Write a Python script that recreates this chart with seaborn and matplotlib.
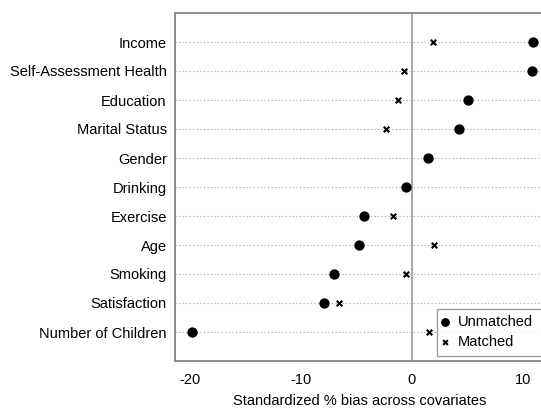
"""Standardized bias dot plot."""

import matplotlib

matplotlib.use("Agg")
import matplotlib.pyplot as plt
import pandas as pd
import seaborn as sns

covariates = [
    "Income",
    "Self-Assessment Health",
    "Education",
    "Marital Status",
    "Gender",
    "Drinking",
    "Exercise",
    "Age",
    "Smoking",
    "Satisfaction",
    "Number of Children",
]
unmatched = [10.95, 10.8, 5.1, 4.24, 1.44, -0.51, -4.33, -4.78, -7.03, -7.9, -19.84]
# gender / drinking matched markers sit hidden under the unmatched dots
matched = [1.92, -0.69, -1.26, -2.37, 1.44, -0.51, -1.71, 1.98, -0.57, -6.55, 1.56]
x_ticks = [-20, -10, 0, 10]

W, H = 541, 409
GREY = "#858585"

sns.set_theme(style="white")
plt.rcParams["font.family"] = ["Liberation Sans", "DejaVu Sans"]
plt.rcParams["text.color"] = "black"
plt.rcParams["axes.labelcolor"] = "black"
plt.rcParams["xtick.labelcolor"] = "black"
plt.rcParams["ytick.labelcolor"] = "black"

df = pd.DataFrame({"Covariate": covariates, "Unmatched": unmatched, "Matched": matched})
df["pos"] = range(len(df))

fig = plt.figure(figsize=(W / 100, H / 100), dpi=100)
ax = fig.add_axes([175 / W, 48 / H, (545 - 175) / W, 348 / H])

for p in df["pos"]:
    ax.axhline(p, color="#a0a0a0", linestyle=(0, (1, 2.2)), linewidth=0.8, zorder=0)
ax.axvline(0, color="#a8a8a8", linewidth=1.4, zorder=1)

sns.scatterplot(
    data=df, x="Matched", y="pos", marker="x", s=16, color="black",
    linewidth=1.5, ax=ax, zorder=2, label="Matched",
)
sns.scatterplot(
    data=df, x="Unmatched", y="pos", marker="o", s=55, color="black",
    edgecolor="black", linewidth=0, ax=ax, zorder=3, label="Unmatched",
)

ax.set_xlim(-21.37, 12.0)
ax.set_ylim(len(df) - 0.0, -1.0)
ax.set_yticks(df["pos"], df["Covariate"], fontsize=10.5)
ax.set_xticks(x_ticks, [str(t) for t in x_ticks], fontsize=10.5)
ax.tick_params(axis="x", length=4, width=1, color=GREY, pad=5)
ax.tick_params(axis="y", length=0, pad=6)
ax.set_xlabel("Standardized % bias across covariates", fontsize=10.5, labelpad=5)
ax.set_ylabel("")
for s in ax.spines.values():
    s.set_color(GREY)
    s.set_linewidth(1.3)

handles, labels = ax.get_legend_handles_labels()
order = [labels.index("Unmatched"), labels.index("Matched")]
leg = ax.legend(
    [handles[i] for i in order], [labels[i] for i in order],
    loc="lower left",
    bbox_to_anchor=(437.3 / W, (H - 355.7) / H, (560 - 437.3) / W, 0.1),
    bbox_transform=fig.transFigure, mode="expand", borderaxespad=0, fontsize=10.5,
    frameon=True, fancybox=False, edgecolor=GREY, handletextpad=0.74,
    handlelength=0.2, borderpad=0.45, labelspacing=0.41, markerscale=0.85,
)
leg.get_frame().set_linewidth(1.0)

fig.savefig("out.png", dpi=100)
plt.close()
